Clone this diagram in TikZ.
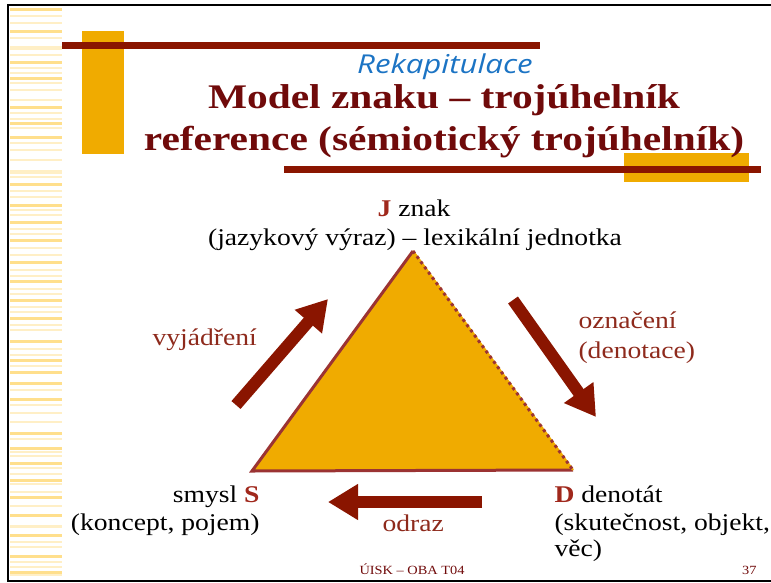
\documentclass[tikz,border=0pt]{standalone}
\usepackage{fontspec}
\setmainfont{Liberation Serif}[FakeStretch=1.15]
\newfontfamily\titlefont{Liberation Serif}[FakeStretch=1.2]
\newfontfamily\rekapfont{Open Sans}[FakeStretch=1.2]
\usetikzlibrary{arrows.meta}
\definecolor{titlered}{HTML}{700A0A}
\definecolor{barred}{HTML}{8A1500}
\definecolor{gold}{HTML}{F0AB00}
\definecolor{labelred}{HTML}{8E2A1C}
\definecolor{vertred}{HTML}{A0281C}
\definecolor{edgered}{HTML}{9B3333}
\definecolor{stripe}{HTML}{FFDF8C}
\definecolor{stripelight}{HTML}{FFEFC6}
\definecolor{rekapblue}{HTML}{1C74C4}

\begin{document}
\begin{tikzpicture}[x=1pt,y=-1pt,
    fat/.style={barred, line width=12pt, -{Triangle[width=34pt,length=30pt]}},
    edge/.style={edgered, line width=3pt},
    txt/.style={font=\fontsize{24}{29}\selectfont},
    lbl/.style={labelred, font=\fontsize{24}{29}\selectfont, anchor=base west},
    ttl/.style={titlered, font=\titlefont\fontsize{34.5}{42}\selectfont\bfseries, anchor=base}]
    \useasboundingbox (0,0) rectangle (771,582);

    % Stripes (Left)
    \foreach \y in {9.5,31,62,78,107,123,137,184,205,222,240,262,281,300,318,341,360,372,383,399,433,448,463,480,497,515,535,556,572}
        \draw[stripe, line width=3pt] (10,\y) -- (62,\y);
    \foreach \y in {16,23,38,47,49,55,68,73,83,90,100,113,119,128,143,150,160,171,173,177,191,197,210,215,229,234,248,255,270,276,289,294,307,312,325,330,349,355,366,390,405,413,422,439,452,456,468,474,484,492,506,526,527,542,547,562,567,575}
        \draw[stripelight, line width=1.2pt] (10,\y) -- (62,\y);

    % Frame
    \draw[line width=2pt] (8.3,581) |- (771,5);
    \draw[line width=2pt] (7.3,580.5) -- (771,580.5);

    % Bars
    \fill[gold] (82,31) rectangle (124,154);
    \fill[barred] (62,42) rectangle (540,49);
    \fill[gold] (624,153) rectangle (749,182);
    \fill[barred] (284,166) rectangle (761,173);

    % Title
    \node[rekapblue, font=\rekapfont\itshape\fontsize{26}{30}\selectfont, anchor=base] (rekap) at (445,73) {Rekapitulace};
    \node[ttl] (title1) at (444,108) {Model znaku – trojúhelník};
    \node[ttl] (title2) at (444,150) {reference (sémiotický trojúhelník)};

    % Triangle
    \coordinate (J) at (413,251); \coordinate (S) at (252,471); \coordinate (D) at (573,470);
    \fill[gold] (J) -- (S) -- (D) -- cycle;
    \draw[edge] (D) -- (S) -- (J);
    \draw[gold, line width=2pt] (J) -- (D);
    \draw[edge, dash pattern=on 3pt off 3.5pt] (J) -- (D);

    % Arrows
    \coordinate (vyjA) at (236,405); \coordinate (vyjB) at (328,299);
    \coordinate (oznA) at (513,300); \coordinate (oznB) at (596,417);
    \coordinate (odrA) at (482,502); \coordinate (odrB) at (328,502);
    \draw[fat] (vyjA) -- (vyjB);
    \draw[fat] (oznA) -- (oznB);
    \draw[fat] (odrA) -- (odrB);

    % Vertex texts
    \node[txt, anchor=base] (Jtop) at (414,216) {\textcolor{vertred}{\bfseries J} znak};
    \node[txt, anchor=base] (Jbot) at (415,245) {(jazykový výraz) – lexikální jednotka};
    \node[txt, anchor=base east] (Stop) at (263,502) {smysl \textcolor{vertred}{\bfseries S}};
    \node[txt, anchor=base east] (Sbot) at (263,530) {(koncept, pojem)};
    \node[txt, anchor=base west] (Dtop) at (551,502) {\textcolor{vertred}{\bfseries D} denotát};
    \node[txt, anchor=base west] (Dmid) at (551,530) {(skutečnost, objekt,};
    \node[txt, anchor=base west] (Dbot) at (551,556) {věc)};

    % Arrow labels
    \node[lbl] (vyj) at (149,345) {vyjádření};
    \node[lbl] (ozn) at (575,328) {označení};
    \node[lbl] (den) at (575,358) {(denotace)};
    \node[lbl] (odr) at (379,531) {odraz};

    % Footer
    \node[titlered, font=\fontsize{12.5}{14}\selectfont, anchor=base west] (foot) at (356,574) {ÚISK – OBA T04};
    \node[titlered, font=\fontsize{12.5}{14}\selectfont, anchor=base east] (page) at (760,574) {37};
\end{tikzpicture}
\end{document}
